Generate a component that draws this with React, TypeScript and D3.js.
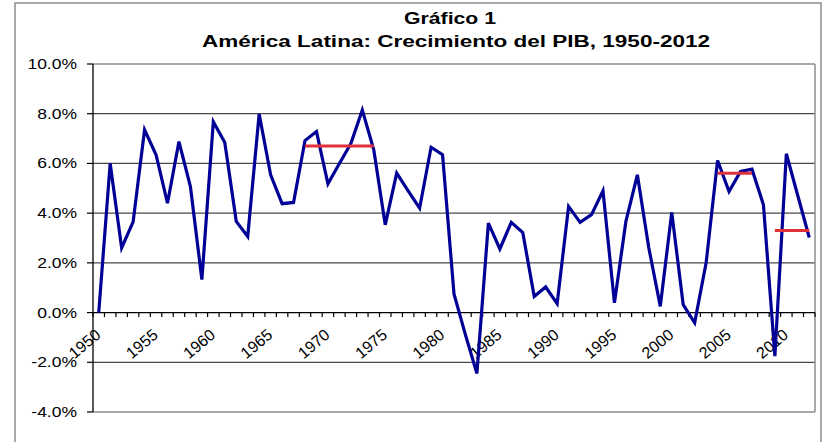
import React from "react";
import * as d3 from "d3";

const years: number[] = d3.range(1950, 2013);
const growth: number[] = [
  0.0, 6.0, 2.6, 3.65, 7.35, 6.35, 4.4, 6.88, 5.07, 1.33,
  7.68, 6.84, 3.67, 3.06, 7.99, 5.54, 4.38, 4.43, 6.92, 7.28,
  5.18, 6.0, 6.8, 8.15, 6.55, 3.53, 5.61, 4.9, 4.2, 6.65,
  6.35, 0.75, -0.9, -2.45, 3.6, 2.56, 3.63, 3.22, 0.65, 1.03,
  0.36, 4.27, 3.63, 3.94, 4.9, 0.39, 3.67, 5.54, 2.6, 0.25,
  4.03, 0.32, -0.41, 2.0, 6.12, 4.87, 5.68, 5.77, 4.34, -1.75,
  6.39, 4.7, 3.02,
];
const averageFrom: number[] = [1968, 2004, 2009];
const averageTo: number[] = [1974, 2007, 2012];
const averageValue: number[] = [6.7, 5.6, 3.3];
const yTicks: number[] = [-4, -2, 0, 2, 4, 6, 8, 10];
const xLabelYears: number[] = d3.range(1950, 2013, 5);

const titleLine1 = "Gráfico 1";
const titleLine2 = "América Latina: Crecimiento del PIB, 1950-2012";

export default function App() {
  const W = 828, H = 442;
  const left = 93, right = 815, top = 64, bottom = 412;
  const x = d3.scaleBand<number>().domain(years).range([left, right]).padding(0);
  const y = d3.scaleLinear().domain([-4, 10]).range([bottom, top]);
  const cx = (yr: number) => (x(yr) as number) + x.bandwidth() / 2;
  const line = d3
    .line<number>()
    .x((_, i) => cx(years[i]))
    .y((d) => y(d));
  const sx = 1.25;
  const font = "'Liberation Sans', Arial, sans-serif";
  const y0 = y(0);
  const boundaries = d3.range(0, years.length + 1).map((k) => left + k * x.bandwidth());

  return (
    <svg width={W} height={H} style={{ position: "absolute", left: 0, top: 0, background: "#fff" }} fontFamily={font}>
      <rect x={15} y={3} width={806} height={460} fill="#fff" stroke="#8c8c8c" strokeWidth={1.5} />
      <text x={450} y={24} textAnchor="middle" fontSize={16} fontWeight="bold" textLength={92} lengthAdjust="spacingAndGlyphs">
        {titleLine1}
      </text>
      <text x={456} y={47} textAnchor="middle" fontSize={16} fontWeight="bold" textLength={508} lengthAdjust="spacingAndGlyphs">
        {titleLine2}
      </text>
      {yTicks
        .filter((t) => t !== 0 && t !== -4 && t !== 10)
        .map((t) => (
          <line key={"g" + t} x1={left} x2={right} y1={y(t)} y2={y(t)} stroke="#4a4a4a" strokeWidth={1.3} />
        ))}
      <line x1={left} x2={right} y1={top} y2={top} stroke="#8c8c8c" strokeWidth={1.5} />
      <line x1={left} x2={right} y1={bottom} y2={bottom} stroke="#8c8c8c" strokeWidth={1.5} />
      <line x1={right} x2={right} y1={top} y2={bottom} stroke="#8c8c8c" strokeWidth={1.5} />
      <line x1={left} x2={left} y1={top} y2={bottom} stroke="#000" strokeWidth={1.3} />
      {yTicks.map((t) => (
        <g key={"y" + t}>
          <line x1={left - 6} x2={left} y1={y(t)} y2={y(t)} stroke="#000" strokeWidth={1.2} />
          <text transform={`translate(77,${y(t) + 5}) scale(${sx},1)`} textAnchor="end" fontSize={14}>
            {t.toFixed(1) + "%"}
          </text>
        </g>
      ))}
      <line x1={left} x2={right} y1={y0} y2={y0} stroke="#000" strokeWidth={1.3} />
      {boundaries.map((b, k) => (
        <line key={"t" + k} x1={b} x2={b} y1={y0} y2={y0 + 4.5} stroke="#000" strokeWidth={1.2} />
      ))}
      {xLabelYears.map((yr) => (
        <text
          key={"x" + yr}
          transform={`translate(${cx(yr) + 3},${y0 + 24}) rotate(-40)`}
          textAnchor="end"
          fontSize={16}
        >
          {yr}
        </text>
      ))}
      <path d={line(growth) || ""} fill="none" stroke="#000096" strokeWidth={3.2} strokeLinejoin="miter" />
      {averageValue.map((v, i) => (
        <line
          key={"a" + i}
          x1={cx(averageFrom[i])}
          x2={cx(averageTo[i])}
          y1={y(v)}
          y2={y(v)}
          stroke="#e0303a"
          strokeWidth={3}
        />
      ))}
    </svg>
  );
}
